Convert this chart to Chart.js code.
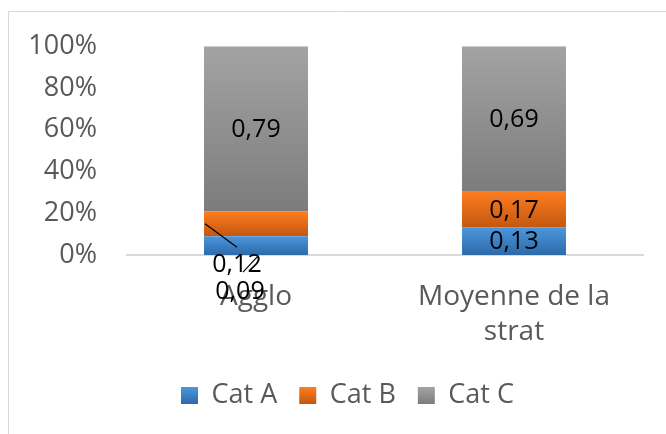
<!DOCTYPE html>
<html>
<head>
<meta charset="utf-8">
<script src="https://cdn.jsdelivr.net/npm/chart.js@4/dist/chart.umd.min.js"></script>
<style>
  html, body { margin: 0; padding: 0; background: #ffffff; }
  #wrap { width: 666px; height: 434px; position: relative; }
</style>
</head>
<body>
<div id="wrap"><canvas id="c" width="666" height="434"></canvas></div>
<script>
// ---- data ----
const categories = ['Agglo', ['Moyenne de la', 'strat']];
const seriesNames = ['Cat A', 'Cat B', 'Cat C'];
const catA = [0.09, 0.13];
const catB = [0.12, 0.17];
const catC = [0.79, 0.69];
const yTickValues = [0, 20, 40, 60, 80, 100];

// ---- styling ----
const FONT = "'Open Sans', 'DejaVu Sans', sans-serif";
const gradStops = [
  ['#4b96de', '#2d6aa9'],
  ['#ff7d1f', '#c25710'],
  ['#a3a3a3', '#7c7c7c']
];
const series = [catA, catB, catC];
const totals = categories.map((_, i) => series.reduce((s, arr) => s + arr[i], 0));
const pct = series.map(arr => arr.map((v, i) => v / totals[i] * 100));

function segGradient(ctx) {
  const chart = ctx.chart;
  const stops = gradStops[ctx.datasetIndex];
  if (ctx.type !== 'data' || !chart.chartArea) return stops[0];
  const y = chart.scales.y;
  let start = 0;
  for (let d = 0; d < ctx.datasetIndex; d++) start += pct[d][ctx.dataIndex];
  const end = start + pct[ctx.datasetIndex][ctx.dataIndex];
  const top = y.getPixelForValue(end), bottom = y.getPixelForValue(start);
  const g = chart.ctx.createLinearGradient(0, top, 0, bottom);
  g.addColorStop(0, stops[0]);
  g.addColorStop(1, stops[1]);
  return g;
}

const datasets = seriesNames.map((name, k) => ({
  label: name,
  data: pct[k],
  raw: series[k],
  backgroundColor: segGradient,
  borderWidth: 0,
  categoryPercentage: 1,
  barPercentage: 0.403
}));

// label placement overrides (relative to segment centre) for labels drawn outside
const outsideLabels = {
  '1-0': { dx: -19, dy: 41, line: [[-51, 0], [-19, 23.6]] },
  '0-0': { dx: -16, dy: 46.5, line: [[1, 11.5], [-13, 26.5]] }
};

const framePlugin = {
  id: 'frame',
  beforeDraw(chart) {
    const c = chart.ctx;
    c.save();
    c.strokeStyle = '#d9d9d9';
    c.lineWidth = 1;
    c.beginPath();
    c.moveTo(8.5, chart.height);
    c.lineTo(8.5, 11.5);
    c.lineTo(chart.width, 11.5);
    c.stroke();
    c.restore();
  }
};

const labelPlugin = {
  id: 'segLabels',
  afterDatasetsDraw(chart) {
    const c = chart.ctx;
    c.save();
    c.font = '25px ' + FONT;
    c.fillStyle = '#000000';
    c.textAlign = 'center';
    c.textBaseline = 'middle';
    chart.data.datasets.forEach((ds, di) => {
      const meta = chart.getDatasetMeta(di);
      meta.data.forEach((el, i) => {
        const cx = el.x, cy = (el.y + el.base) / 2;
        const txt = String(ds.raw[i]).replace('.', ',');
        const o = outsideLabels[di + '-' + i];
        if (o) {
          c.strokeStyle = '#000000';
          c.lineWidth = 1.2;
          c.beginPath();
          c.moveTo(cx + o.line[0][0], cy + o.line[0][1]);
          c.lineTo(cx + o.line[1][0], cy + o.line[1][1]);
          c.stroke();
          c.fillText(txt, cx + o.dx, cy + o.dy);
        } else {
          c.fillText(txt, cx, cy + 1);
        }
      });
    });
    c.restore();
  }
};

const LEGEND_SHIFT = 26;
const legendPlugin = {
  id: 'legendTweak',
  afterLayout(chart) {
    const lg = chart.legend;
    if (!lg) return;
    lg.left += LEGEND_SHIFT;
    lg.right += LEGEND_SHIFT;
  },
  beforeDraw(chart) {
    const lg = chart.legend;
    if (!lg || !lg.legendItems) return;
    const top = lg.top + 22 + 5;
    lg.legendItems.forEach((it, k) => {
      const g = chart.ctx.createLinearGradient(0, top, 0, top + 17);
      g.addColorStop(0, gradStops[k][0]);
      g.addColorStop(1, gradStops[k][1]);
      it.fillStyle = g;
    });
  }
};

new Chart(document.getElementById('c'), {
  type: 'bar',
  data: { labels: categories, datasets },
  plugins: [framePlugin, labelPlugin, legendPlugin],
  options: {
    responsive: false,
    animation: false,
    layout: { padding: { top: 44, right: 23, bottom: 15, left: 0 } },
    scales: {
      x: {
        stacked: true,
        grid: { display: false, drawTicks: false },
        border: { display: true, color: '#d9d9d9', width: 2 },
        ticks: {
          color: '#595959',
          font: { family: FONT, size: 28, lineHeight: 1.25 },
          padding: 25,
          maxRotation: 0,
          autoSkip: false
        },
        afterFit(s) { s.height = 105; }
      },
      y: {
        stacked: true,
        min: 0,
        max: 100,
        grid: { display: false, drawTicks: false },
        border: { display: false },
        afterBuildTicks(s) { s.ticks = yTickValues.map(v => ({ value: v })); },
        ticks: {
          color: '#595959',
          font: { family: FONT, size: 27 },
          padding: 30,
          callback: v => v + '%'
        },
        afterFit(s) { s.width = 127; }
      }
    },
    plugins: {
      legend: {
        position: 'bottom',
        labels: {
          boxWidth: 17,
          boxHeight: 17,
          padding: 22,
          color: '#595959',
          font: { family: FONT, size: 27 }
        }
      },
      tooltip: { enabled: false }
    }
  }
});
</script>
</body>
</html>
